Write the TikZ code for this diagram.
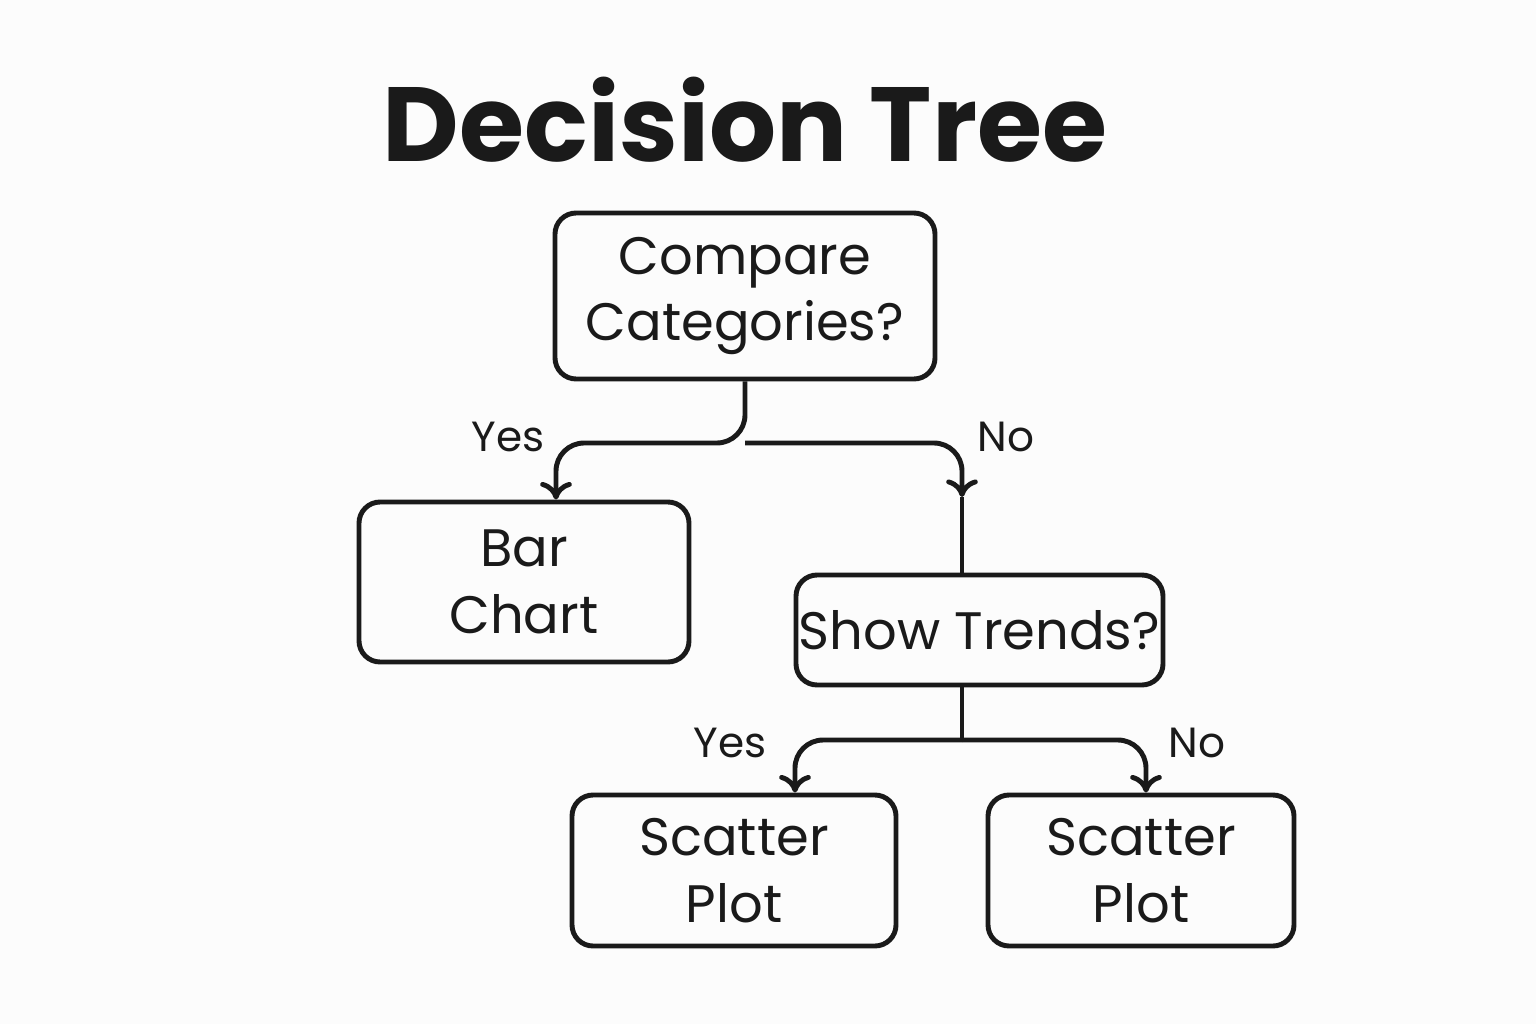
\documentclass[tikz,border=0pt]{standalone}
\usepackage{fontspec}
\setmainfont{Poppins}
\usetikzlibrary{positioning,arrows.meta}
\definecolor{ink}{HTML}{1A1A1A}
\definecolor{paper}{HTML}{FCFCFC}
\tikzset{
  box/.style={draw=ink, line width=1.4pt, rounded corners=6pt, align=center,
    inner sep=0pt, font=\fontsize{15}{19}\selectfont, text=ink},
  link/.style={draw=ink, line width=1.4pt, rounded corners=8pt},
  tip/.style={-{To[length=5pt,width=9pt]}},
  answer/.style={font=\fontsize{12}{14}\selectfont, text=ink}
}
\begin{document}
\begin{tikzpicture}
  \fill [paper] (0,0) rectangle (15.36,10.24);
  \useasboundingbox (0,0) rectangle (15.36,10.24);

  \node [font=\fontsize{30}{34}\selectfont\bfseries, text=ink] (title) at (7.45,9.04) {Decision Tree};

  % boxes
  \node [box, minimum width=3.8cm, minimum height=1.66cm] (compare) at (7.45,7.28) {Compare\\Categories?};
  \node [box, minimum width=3.3cm, minimum height=1.6cm] (bar) at (5.24,4.42) {Bar\\Chart};
  \node [box, minimum width=3.67cm, minimum height=1.1cm] (trends) at (9.795,3.94) {Show Trends?};
  \node [box, minimum width=3.24cm, minimum height=1.51cm] (scatterA) at (7.34,1.535) {Scatter\\Plot};
  \node [box, minimum width=3.06cm, minimum height=1.51cm] (scatterB) at (11.41,1.535) {Scatter\\Plot};

  % connectors
  \coordinate (split) at (7.45,5.81);
  \coordinate (noTip) at (9.62,5.27);
  \coordinate (split2) at (9.62,2.84);
  \draw [link, tip] (compare.south) -- (split) -| (bar.north -| 5.56,0);
  \draw [link, tip] (split) -| (noTip);
  \draw [link] (noTip) -- (trends.north -| noTip);
  \draw [link] (trends.south -| split2) -- (split2);
  \draw [link, tip] (split2) -| (scatterA.north -| 7.95,0);
  \draw [link, tip] (split2) -| (scatterB.north -| 11.46,0);

  % answers
  \node [answer] (yes1) at (5.08,5.87) {Yes};
  \node [answer] (no1) at (10.06,5.87) {No};
  \node [answer] (yes2) at (7.30,2.81) {Yes};
  \node [answer] (no2) at (11.97,2.81) {No};
\end{tikzpicture}
\end{document}
